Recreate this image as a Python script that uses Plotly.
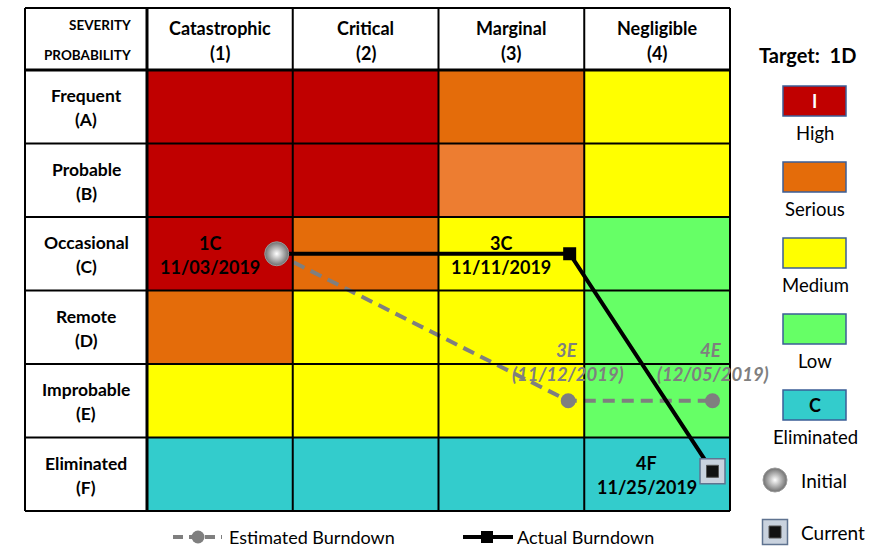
import plotly.graph_objects as go

# ---------------- data ----------------
severity_labels = ["Catastrophic<br>(1)", "Critical<br>(2)", "Marginal<br>(3)", "Negligible<br>(4)"]
probability_labels = ["Frequent<br>(A)", "Probable<br>(B)", "Occasional<br>(C)",
                      "Remote<br>(D)", "Improbable<br>(E)", "Eliminated<br>(F)"]
# risk level per row (A..F) and column (1..4)
risk_matrix = [
    ["High", "High", "Serious", "Medium"],
    ["High", "High", "Serious2", "Medium"],
    ["High", "Serious", "Medium", "Low"],
    ["Serious", "Medium", "Medium", "Low"],
    ["Medium", "Medium", "Medium", "Low"],
    ["Eliminated", "Eliminated", "Eliminated", "Eliminated"],
]
level_colors = {"High": "#C00000", "Serious": "#E46C0A", "Serious2": "#ED7D31",
                "Medium": "#FFFF00", "Low": "#66FF66", "Eliminated": "#33CCCC"}
legend_levels = ["High", "Serious", "Medium", "Low", "Eliminated"]
legend_box_text = ["I", "", "", "", "C"]
legend_box_text_color = ["white", "black", "black", "black", "black"]

# burndown paths (x = severity column, y = probability row; A=1 ... F=6)
actual_x = [1.39, 3.40, 4.38]
actual_y = [3.0, 3.0, 5.96]
actual_labels = ["1C<br>11/03/2019", "3C<br>11/11/2019", "4F<br>11/25/2019"]
estimated_x = [1.39, 3.39, 4.38]
estimated_y = [3.0, 5.0, 5.0]
estimated_codes = ["", "3E", "4E"]
estimated_dates = ["", "(11/12/2019)", "(12/05/2019)"]
target = "1D"

# ---------------- layout helpers (pixel -> data) ----------------
W, H = 876, 547
CW, RH = 145.75, 73.5
X0, Y0 = 147, 70  # grid origin in pixels


def X(p):
    return (p - X0) / CW + 0.5


def Y(q):
    return (q - Y0) / RH + 0.5


def DY(dq):
    return dq / RH


FONT = "Lato, 'Open Sans', sans-serif"
fig = go.Figure()
shapes = []
ann = []


def two_line(x, y, text, size, up, down, color="black"):
    l1, l2 = text.split("<br>")
    ann.append(dict(x=x, y=y - DY(up), text="<b>" + l1 + "</b>", showarrow=False,
                    font=dict(size=size, color=color, family=FONT)))
    ann.append(dict(x=x, y=y + DY(down), text="<b>" + l2 + "</b>", showarrow=False,
                    font=dict(size=size, color=color, family=FONT)))


# cells
for r, row in enumerate(risk_matrix):
    for c, lvl in enumerate(row):
        shapes.append(dict(type="rect", xref="x", yref="y", x0=c + 0.5, x1=c + 1.5,
                           y0=r + 0.5, y1=r + 1.5, fillcolor=level_colors[lvl],
                           line=dict(width=0), layer="below"))

left, top = X(25), Y(8)
right, bottom = 4.5, 6.5
# grid lines
for i in range(5):
    shapes.append(dict(type="line", xref="x", yref="y", x0=i + 0.5, x1=i + 0.5, y0=top, y1=bottom,
                       line=dict(color="black", width=3 if i == 0 else 2)))
shapes.append(dict(type="line", xref="x", yref="y", x0=left, x1=left, y0=top, y1=bottom,
                   line=dict(color="black", width=2)))
for j in range(7):
    shapes.append(dict(type="line", xref="x", yref="y", x0=left, x1=right, y0=j + 0.5, y1=j + 0.5,
                       line=dict(color="black", width=3 if j == 0 else 2)))
shapes.append(dict(type="line", xref="x", yref="y", x0=left, x1=right, y0=top, y1=top,
                   line=dict(color="black", width=2)))

# header labels
for c, lab in enumerate(severity_labels):
    two_line(c + 1, (top + 0.5) / 2, lab, 18, 11, 14)
for r, lab in enumerate(probability_labels):
    two_line((left + 0.5) / 2, r + 1, lab, 17.5, 11, 13)
ann.append(dict(x=X(133), y=Y(25), text="<b>SEVERITY</b>", showarrow=False, xanchor="right",
                font=dict(size=13.5, color="black", family=FONT)))
ann.append(dict(x=X(133), y=Y(55), text="<b>PROBABILITY</b>", showarrow=False, xanchor="right",
                font=dict(size=13.5, color="black", family=FONT)))

# point labels (actual)
for xv, yv, lab in zip(actual_x, actual_y, actual_labels):
    col = round(xv - 0.39)
    row = round(yv)
    two_line(col - 0.07, row, lab, 18, 11, 13)
# estimated labels
for xv, yv, code, d in zip(estimated_x, estimated_y, estimated_codes, estimated_dates):
    if not code:
        continue
    ann.append(dict(x=xv + 0.08, y=yv - 0.69, text="<b><i>" + code + "</i></b>", showarrow=False,
                    xanchor="right", font=dict(size=18.5, color="#7F7F7F", family=FONT)))
    ann.append(dict(x=xv, y=yv - 0.36, text="<b><i>" + d + "</i></b>", showarrow=False,
                    font=dict(size=18.5, color="#7F7F7F", family=FONT)))

# estimated burndown
fig.add_trace(go.Scatter(x=estimated_x, y=estimated_y, mode="lines",
                         line=dict(color="#7F7F7F", width=4, dash="12px,7px"),
                         hoverinfo="skip", showlegend=False))
fig.add_trace(go.Scatter(x=estimated_x[1:], y=estimated_y[1:], mode="markers",
                         marker=dict(color="#7F7F7F", size=15, symbol="circle"),
                         hoverinfo="skip", showlegend=False))
# actual burndown
fig.add_trace(go.Scatter(x=actual_x, y=actual_y, mode="lines",
                         line=dict(color="black", width=4), hoverinfo="skip", showlegend=False))
fig.add_trace(go.Scatter(x=actual_x[1:-1], y=actual_y[1:-1], mode="markers",
                         marker=dict(color="black", size=13, symbol="square"),
                         hoverinfo="skip", showlegend=False))

INITIAL_MARKER = dict(symbol="circle", size=24, color="#6f6f6f",
                      gradient=dict(type="radial", color="#ffffff"),
                      line=dict(color="#9a9a9a", width=1))
CUR_OUTER = dict(symbol="square", size=25, color="#c9d2de", line=dict(color="#5f7390", width=1.5))
CUR_INNER = dict(symbol="square", size=12, color="#111111", line=dict(color="#555555", width=1))

# initial & current markers on chart
fig.add_trace(go.Scatter(x=[actual_x[0]], y=[actual_y[0]], mode="markers", marker=INITIAL_MARKER,
                         hoverinfo="skip", showlegend=False))
fig.add_trace(go.Scatter(x=[actual_x[-1]], y=[actual_y[-1]], mode="markers", marker=CUR_OUTER,
                         hoverinfo="skip", showlegend=False))
fig.add_trace(go.Scatter(x=[actual_x[-1]], y=[actual_y[-1]], mode="markers", marker=CUR_INNER,
                         hoverinfo="skip", showlegend=False))

# ---------------- right legend ----------------
ann.append(dict(x=X(807), y=Y(55), text="<b>Target:  " + target + "</b>", showarrow=False,
                font=dict(size=20, color="black", family=FONT)))
box_tops = [86, 162, 238, 314, 390]
for lvl, bt, t, tc in zip(legend_levels, box_tops, legend_box_text, legend_box_text_color):
    shapes.append(dict(type="rect", xref="x", yref="y", x0=X(783), x1=X(846), y0=Y(bt), y1=Y(bt + 30),
                       fillcolor=level_colors[lvl], line=dict(color="#3B5E96", width=1.5)))
    if t:
        ann.append(dict(x=X(814.5), y=Y(bt + 15), text="<b>" + t + "</b>", showarrow=False,
                        font=dict(size=18, color=tc, family=FONT)))
    ann.append(dict(x=X(815), y=Y(bt + 47), text=lvl, showarrow=False,
                    font=dict(size=18.5, color="black", family=FONT)))

fig.add_trace(go.Scatter(x=[X(775)], y=[Y(480)], mode="markers", marker=INITIAL_MARKER,
                         hoverinfo="skip", showlegend=False, cliponaxis=False))
fig.add_trace(go.Scatter(x=[X(775)], y=[Y(532)], mode="markers", marker=CUR_OUTER,
                         hoverinfo="skip", showlegend=False, cliponaxis=False))
fig.add_trace(go.Scatter(x=[X(775)], y=[Y(532)], mode="markers", marker=CUR_INNER,
                         hoverinfo="skip", showlegend=False, cliponaxis=False))
ann.append(dict(x=X(799), y=Y(480), text="Initial", xanchor="left", showarrow=False,
                font=dict(size=19, color="black", family=FONT)))
ann.append(dict(x=X(799), y=Y(532), text="Current", xanchor="left", showarrow=False,
                font=dict(size=19, color="black", family=FONT)))

# ---------------- bottom legend ----------------
fig.add_trace(go.Scatter(x=[X(173), X(222)], y=[Y(537), Y(537)], mode="lines",
                         line=dict(color="#7F7F7F", width=4, dash="10px,6px"),
                         hoverinfo="skip", showlegend=False, cliponaxis=False))
fig.add_trace(go.Scatter(x=[X(198)], y=[Y(537)], mode="markers",
                         marker=dict(color="#7F7F7F", size=13, symbol="circle"),
                         hoverinfo="skip", showlegend=False, cliponaxis=False))
ann.append(dict(x=X(227), y=Y(537), text="Estimated Burndown", xanchor="left", showarrow=False,
                font=dict(size=18, color="black", family=FONT)))
fig.add_trace(go.Scatter(x=[X(463), X(513)], y=[Y(537), Y(537)], mode="lines",
                         line=dict(color="black", width=4),
                         hoverinfo="skip", showlegend=False, cliponaxis=False))
fig.add_trace(go.Scatter(x=[X(487)], y=[Y(537)], mode="markers",
                         marker=dict(color="black", size=12, symbol="square"),
                         hoverinfo="skip", showlegend=False, cliponaxis=False))
ann.append(dict(x=X(515), y=Y(537), text="Actual Burndown", xanchor="left", showarrow=False,
                font=dict(size=18, color="black", family=FONT)))

for a in ann:
    a.setdefault("xref", "x")
    a.setdefault("yref", "y")

fig.update_layout(
    width=W, height=H, autosize=False,
    margin=dict(l=0, r=0, t=0, b=0, pad=0),
    paper_bgcolor="white", plot_bgcolor="white",
    xaxis=dict(range=[X(0), X(W)], visible=False, fixedrange=True),
    yaxis=dict(range=[Y(H), Y(0)], visible=False, fixedrange=True),
    shapes=shapes, annotations=ann, showlegend=False,
    font=dict(family=FONT),
)

fig.write_html("out.html")
